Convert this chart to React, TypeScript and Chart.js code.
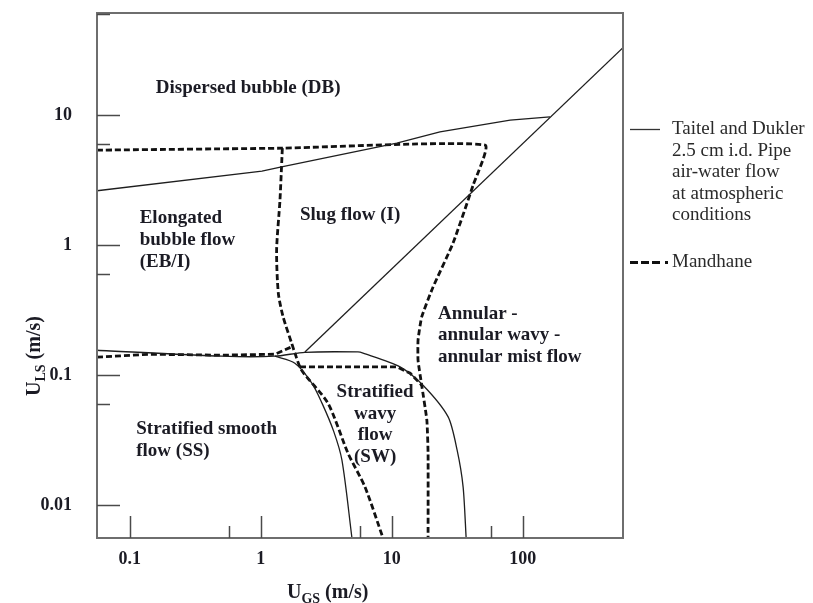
import React, { useEffect, useRef } from 'react';
import { Chart, registerables } from 'chart.js';

Chart.register(...registerables);

// Axis ranges (superficial velocities, m/s)
const X_MIN = 0.0562;
const X_MAX = 581;
const Y_MIN = 0.0056;
const Y_MAX = 61;

const xMajorTicks = [0.1, 1, 10, 100];
const xTickLabels = ['0.1', '1', '10', '100'];
const xMinorTicks = [0.57, 5.7, 57];
const yMajorTicks = [0.01, 0.1, 1, 10];
const yTickLabels = ['0.01', '0.1', '1', '10'];
const yMinorTicks = [0.06, 0.6, 6, 60];

// Taitel and Dukler transition boundaries (solid)
const tdBubbleX = [0.0562, 1.02, 1.44, 10.9, 23.3, 80, 161];
const tdBubbleY = [2.62, 3.71, 4.0, 6.1, 7.44, 9.15, 9.7];

const tdAnnularX = [2.17, 581];
const tdAnnularY = [0.151, 33];

const tdStratX = [0.0562, 0.504, 1.28, 2.17, 5.51, 6.03, 11.55, 17.3, 26.9, 31.5, 35, 36.9];
const tdStratY = [0.1556, 0.14, 0.14, 0.15, 0.151, 0.148, 0.116, 0.0838, 0.0478, 0.0265, 0.0138, 0.0056];

const tdWavyX = [1.28, 1.82, 2.45, 2.93, 3.6, 4.16, 4.96];
const tdWavyY = [0.14, 0.1236, 0.087, 0.061, 0.037, 0.0222, 0.0056];

// Mandhane transition boundaries (dashed)
const mhTopX = [0.0562, 1.46, 51.5, 41.7, 29.3, 20.6, 16.9, 15.85, 15.85, 16.9, 18.5, 18.9, 18.9];
const mhTopY = [5.38, 5.57, 5.88, 2.89, 1.036, 0.475, 0.281, 0.186, 0.13, 0.0838, 0.0451, 0.0251, 0.0056];

const mhSlugX = [1.46, 1.4, 1.32, 1.36, 1.48, 1.72, 1.82, 2.05, 3.25, 4.63, 6.24, 8.56];
const mhSlugY = [5.57, 2.22, 0.915, 0.428, 0.281, 0.176, 0.148, 0.109, 0.061, 0.0251, 0.0138, 0.0056];

const mhStratX = [0.0562, 0.142, 0.504, 1.28, 1.74];
const mhStratY = [0.1376, 0.145, 0.1426, 0.145, 0.166];

const mhWavyX = [1.99, 10.9, 13.8, 16.9];
const mhWavyY = [0.116, 0.116, 0.1036, 0.0838];

// Flow regime names, anchored at (U_GS, U_LS)
const regionLabels = [
  { lines: ['Dispersed bubble (DB)'], x: 0.158, y: 16.1, align: 'left' },
  { lines: ['Elongated', 'bubble flow', '(EB/I)'], x: 0.119, y: 1.61, align: 'left' },
  { lines: ['Slug flow (I)'], x: 1.99, y: 1.7, align: 'left' },
  { lines: ['Annular -', 'annular wavy -', 'annular mist flow'], x: 22.5, y: 0.297, align: 'left' },
  { lines: ['Stratified', 'wavy', 'flow', '(SW)'], x: 7.45, y: 0.0744, align: 'center' },
  { lines: ['Stratified smooth', 'flow (SS)'], x: 0.112, y: 0.0382, align: 'left' },
];

const legendSolidText = ['Taitel and Dukler', '2.5 cm i.d. Pipe', 'air-water flow', 'at atmospheric', 'conditions'];
const legendDashedText = 'Mandhane';

const SERIF = "'Liberation Serif', 'Times New Roman', serif";
const TEXT_COLOR = '#1b1b24';

const toPoints = (xs: number[], ys: number[]) => xs.map((x, i) => ({ x, y: ys[i] }));

const solid = (xs: number[], ys: number[], tension = 0) => ({
  data: toPoints(xs, ys),
  showLine: true,
  borderColor: '#1e1e1e',
  borderWidth: 1.3,
  pointRadius: 0,
  tension,
  fill: false,
});

const dashed = (xs: number[], ys: number[], tension = 0) => ({
  data: toPoints(xs, ys),
  showLine: true,
  borderColor: '#111',
  borderWidth: 2.8,
  borderDash: [6, 3],
  borderCapStyle: 'butt' as const,
  pointRadius: 0,
  tension,
  fill: false,
});

// keep the plot frame exactly where the axes put it
const noScalePadding = (s: any) => {
  s.paddingTop = 0;
  s.paddingBottom = 0;
  s.paddingLeft = 0;
  s.paddingRight = 0;
};

const decorPlugin = {
  id: 'mapDecor',
  afterDatasetsDraw(chart: any) {
    const { ctx, chartArea: a, scales } = chart;
    const xs = scales.x;
    const ys = scales.y;
    ctx.save();

    // frame
    ctx.strokeStyle = '#6e6e6e';
    ctx.lineWidth = 2;
    ctx.strokeRect(a.left, a.top, a.right - a.left, a.bottom - a.top);

    // inward tick marks
    ctx.strokeStyle = '#4a4a4a';
    ctx.lineWidth = 1.5;
    const vTick = (v: number, len: number) => {
      const p = Math.round(xs.getPixelForValue(v)) + 0.5;
      ctx.beginPath();
      ctx.moveTo(p, a.bottom);
      ctx.lineTo(p, a.bottom - len);
      ctx.stroke();
    };
    const hTick = (v: number, len: number) => {
      const p = Math.round(ys.getPixelForValue(v)) + 0.5;
      ctx.beginPath();
      ctx.moveTo(a.left, p);
      ctx.lineTo(a.left + len, p);
      ctx.stroke();
    };
    xMajorTicks.forEach((v) => vTick(v, 22));
    xMinorTicks.forEach((v) => vTick(v, 12));
    yMajorTicks.forEach((v) => hTick(v, 23));
    yMinorTicks.forEach((v) => hTick(v, 13));

    // regime labels
    ctx.fillStyle = TEXT_COLOR;
    ctx.font = `bold 19px ${SERIF}`;
    ctx.textBaseline = 'middle';
    regionLabels.forEach((r) => {
      const px = xs.getPixelForValue(r.x);
      const py = ys.getPixelForValue(r.y);
      ctx.textAlign = r.align as CanvasTextAlign;
      r.lines.forEach((line, i) => ctx.fillText(line, px, py + i * 21.7));
    });

    // axis titles with subscripts
    const drawTitle = (main: string, sub: string, rest: string, x: number, y: number) => {
      ctx.textAlign = 'left';
      ctx.textBaseline = 'alphabetic';
      ctx.font = `bold 20px ${SERIF}`;
      ctx.fillText(main, x, y);
      let w = ctx.measureText(main).width;
      ctx.font = `bold 14px ${SERIF}`;
      ctx.fillText(sub, x + w, y + 5);
      w += ctx.measureText(sub).width;
      ctx.font = `bold 20px ${SERIF}`;
      ctx.fillText(' ' + rest, x + w, y);
    };
    drawTitle('U', 'GS', '(m/s)', 287, 598);
    ctx.save();
    ctx.translate(40, 396);
    ctx.rotate(-Math.PI / 2);
    drawTitle('U', 'LS', '(m/s)', 0, 0);
    ctx.restore();

    // legend
    const lx = a.right + 7;
    ctx.strokeStyle = '#333';
    ctx.lineWidth = 1.3;
    ctx.setLineDash([]);
    ctx.beginPath();
    ctx.moveTo(lx, 129.5);
    ctx.lineTo(lx + 30, 129.5);
    ctx.stroke();

    ctx.strokeStyle = '#111';
    ctx.lineWidth = 3;
    ctx.setLineDash([8, 3]);
    ctx.beginPath();
    ctx.moveTo(lx, 262.5);
    ctx.lineTo(lx + 32, 262.5);
    ctx.stroke();
    ctx.setLineDash([]);
    ctx.fillStyle = '#111';
    ctx.fillRect(lx + 35, 261, 3, 3);

    ctx.fillStyle = '#2a2a2a';
    ctx.font = `19px ${SERIF}`;
    ctx.textAlign = 'left';
    ctx.textBaseline = 'middle';
    legendSolidText.forEach((t, i) => ctx.fillText(t, a.right + 49, 129 + i * 21.6));
    ctx.fillText(legendDashedText, a.right + 49, 262);

    ctx.restore();
  },
};

export default function App() {
  const ref = useRef<HTMLCanvasElement | null>(null);

  useEffect(() => {
    if (!ref.current) return;
    const tickFont = { family: SERIF, size: 18, weight: 'bold' as const };
    const chart = new Chart(ref.current, {
      type: 'scatter',
      data: {
        datasets: [
          solid(tdBubbleX, tdBubbleY),
          solid(tdAnnularX, tdAnnularY),
          solid(tdStratX, tdStratY, 0.25),
          solid(tdWavyX, tdWavyY, 0.3),
          dashed(mhTopX, mhTopY, 0.15),
          dashed(mhSlugX, mhSlugY, 0.25),
          dashed(mhStratX, mhStratY),
          dashed(mhWavyX, mhWavyY),
        ] as any,
      },
      options: {
        responsive: false,
        maintainAspectRatio: false,
        animation: false,
        events: [],
        layout: { padding: { left: 0, top: 13, right: 190, bottom: 0 } },
        plugins: {
          legend: { display: false },
          tooltip: { enabled: false },
        },
        scales: {
          x: {
            type: 'logarithmic',
            min: X_MIN,
            max: X_MAX,
            afterBuildTicks: (s: any) => {
              s.ticks = xMajorTicks.map((value) => ({ value }));
            },
            afterFit: (s: any) => {
              s.height = 65;
              noScalePadding(s);
            },
            grid: { display: false, drawTicks: false },
            border: { display: false },
            ticks: {
              autoSkip: false,
              maxRotation: 0,
              padding: 11,
              color: TEXT_COLOR,
              font: tickFont,
              callback: (_v: any, i: number) => xTickLabels[i],
            },
          },
          y: {
            type: 'logarithmic',
            min: Y_MIN,
            max: Y_MAX,
            afterBuildTicks: (s: any) => {
              s.ticks = yMajorTicks.map((value) => ({ value }));
            },
            afterFit: (s: any) => {
              s.width = 97;
              noScalePadding(s);
            },
            grid: { display: false, drawTicks: false },
            border: { display: false },
            ticks: {
              autoSkip: false,
              padding: 25,
              color: TEXT_COLOR,
              font: tickFont,
              callback: (_v: any, i: number) => yTickLabels[i],
            },
          },
        },
      } as any,
      plugins: [decorPlugin],
    });
    return () => chart.destroy();
  }, []);

  return (
    <div style={{ position: 'fixed', left: 0, top: 0, width: 813, height: 603, background: '#fff' }}>
      <canvas ref={ref} width={813} height={603} style={{ display: 'block' }} />
    </div>
  );
}
